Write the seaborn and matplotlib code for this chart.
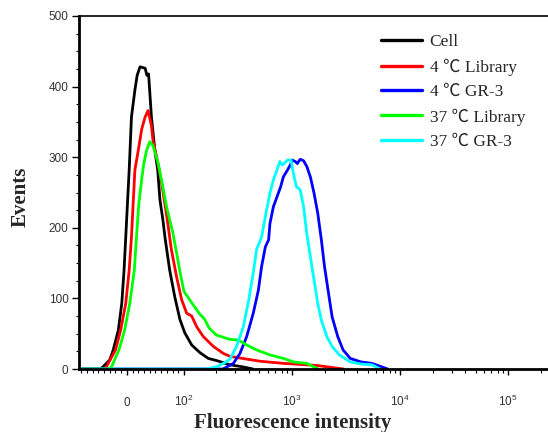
import seaborn as sns
import matplotlib.pyplot as plt
import matplotlib.ticker as mticker
import pandas as pd

# histogram traces (fluorescence intensity, events)
cell_x = [-84, -47, -42, -30, -24, -15, -9, -5, -2, 1, 4, 8, 14, 18, 23, 32, 35, 38, 43, 49,
          54, 58, 63, 67, 75, 84, 93, 102, 118, 141, 168, 200, 266, 351, 435]
cell_y = [0, 0, 3, 13, 27, 55, 93, 140, 187, 235, 282, 357, 395, 416, 428, 426, 416, 418, 357, 310,
          282, 239, 212, 185, 140, 102, 70, 51, 34, 23, 15, 12, 6, 3, 0]

lib4_x = [-84, -40, -36, -20, -11, -2, 4, 8, 11, 14, 20, 26, 32, 37, 43, 46, 52, 61, 70, 78,
          87, 96, 106, 118, 131, 151, 187, 232, 266, 381, 506, 831, 1690, 3000]
lib4_y = [0, 0, 3, 27, 55, 93, 140, 187, 235, 282, 310, 340, 357, 366, 345, 322, 301, 263, 216, 169,
          131, 98, 79, 75, 60, 46, 32, 22, 18, 14, 11, 8, 5, 0]

gr4_x = [-84, 230, 287, 330, 381, 438, 489, 523, 567, 608, 625, 673, 727, 785, 831, 910, 980, 1000,
         1070, 1120, 1190, 1280, 1370, 1480, 1600, 1730, 1870, 2000, 2180, 2350, 2650, 2970, 3460,
         4360, 5490, 7700]
gr4_y = [0, 0, 8, 22, 46, 79, 112, 145, 173, 183, 206, 230, 244, 258, 272, 282, 291, 296,
         294, 291, 297, 295, 287, 272, 249, 221, 183, 145, 107, 74, 46, 27, 15,
         10, 8, 0]

lib37_x = [-84, -32, -27, -14, -4, 5, 13, 17, 21, 25, 29, 34, 40, 46, 55, 62, 70, 80, 87, 93,
           100, 112, 124, 140, 156, 171, 200, 266, 319, 381, 470, 625, 831, 1030, 1370, 1750]
lib37_y = [0, 0, 3, 27, 55, 93, 140, 190, 235, 262, 288, 308, 322, 316, 291, 262, 228, 195, 165, 138,
           110, 99, 89, 78, 70, 58, 48, 42, 41, 34, 27, 20, 15, 10, 8, 0]

gr37_x = [-84, 160, 200, 245, 266, 307, 355, 398, 438, 470, 523, 567, 625, 673, 727, 772, 815, 857,
          910, 980, 1030, 1100, 1190, 1280, 1370, 1480, 1600, 1730, 1870, 2100, 2350, 2740, 3460,
          4360, 5490, 6500]
gr37_y = [0, 0, 3, 10, 14, 32, 60, 98, 136, 169, 187, 216, 249, 268, 282, 294, 289, 292,
          296, 296, 277, 258, 254, 230, 192, 159, 126, 93, 69, 46, 32, 20, 10,
          7, 6, 0]

samples = ['Cell', '4 ℃ Library', '4 ℃ GR-3', '37 ℃ Library', '37 ℃ GR-3']
colors = ['#000000', '#ff0000', '#0000ff', '#00ff00', '#00ffff']

frames = []
for name, xs, ys in zip(samples,
                        [cell_x, lib4_x, gr4_x, lib37_x, gr37_x],
                        [cell_y, lib4_y, gr4_y, lib37_y, gr37_y]):
    frames.append(pd.DataFrame({'intensity': xs, 'events': ys, 'sample': name}))
df = pd.concat(frames, ignore_index=True)

sns.set_style('ticks')
plt.rcParams['mathtext.fontset'] = 'custom'
plt.rcParams['mathtext.rm'] = 'Liberation Sans'

fig = plt.figure(figsize=(5.48, 4.32), dpi=100)
ax = fig.add_axes([79 / 548, 63 / 432, 469 / 548, 353 / 432])

sns.lineplot(data=df, x='intensity', y='events', hue='sample', hue_order=samples,
             palette=colors, estimator=None, sort=False, linewidth=2.0, ax=ax)

ax.set_xscale('symlog', linthresh=100, linscale=0.475)
ax.set_xlim(-84, 234000)
ax.set_ylim(0, 500)

# x ticks
ax.set_xticks([0, 100, 1000, 10000, 100000])
ax.set_xticklabels(['0', r'$\mathregular{10^{2}}$', r'$\mathregular{10^{3}}$',
                    r'$\mathregular{10^{4}}$', r'$\mathregular{10^{5}}$'])
minors = [-80, -70, -60, -50, -40, -30, -20, -10, 10, 20, 30, 40, 50, 60, 70, 80, 90]
for dec in [100, 1000, 10000, 100000]:
    minors += [dec * k for k in range(2, 10)]
minors = [m for m in minors if m < 234000]
ax.xaxis.set_minor_locator(mticker.FixedLocator(minors))

ax.yaxis.set_major_locator(mticker.MultipleLocator(100))
ax.yaxis.set_minor_locator(mticker.MultipleLocator(25))

ax.tick_params(axis='both', which='both', direction='out', color='black',
               labelcolor='#333333', labelsize=8.5, bottom=True, left=True)
ax.tick_params(axis='x', which='major', length=4.5, width=1, pad=22.5)
ax.tick_params(axis='x', which='minor', length=3, width=0.8)
ax.tick_params(axis='y', which='major', length=5, width=1, pad=2.5)
ax.tick_params(axis='y', which='minor', length=2.5, width=0.8)
for lab in ax.get_xticklabels() + ax.get_yticklabels():
    lab.set_family('Liberation Sans')
for t in ax.xaxis.get_major_ticks():
    t.label1.set_va('baseline')

for side in ['left', 'bottom']:
    ax.spines[side].set_linewidth(2)
    ax.spines[side].set_color('black')
ax.spines['top'].set_linewidth(1.2)
ax.spines['top'].set_color('black')
ax.spines['right'].set_visible(False)

ax.set_xlabel('Fluorescence intensity', fontsize=15, fontweight='bold', family='Liberation Serif')
ax.set_ylabel('Events', fontsize=15, fontweight='bold', family='Liberation Serif')
ax.xaxis.set_label_coords(0.456, -0.124)
ax.yaxis.set_label_coords(-0.104, 0.487)

handles, labels = ax.get_legend_handles_labels()
leg = ax.legend(handles, labels, loc='upper left', bbox_to_anchor=(381 / 548, 0.921),
                bbox_transform=fig.transFigure, frameon=False, borderpad=0, borderaxespad=0,
                handlelength=2.35, handletextpad=0.45, labelspacing=0.47,
                prop={'family': ['Liberation Serif', 'Noto Sans CJK SC', 'DejaVu Sans'], 'size': 12.5})
for h in leg.get_lines():
    h.set_linewidth(2.4)

fig.savefig('out.png', dpi=100)
